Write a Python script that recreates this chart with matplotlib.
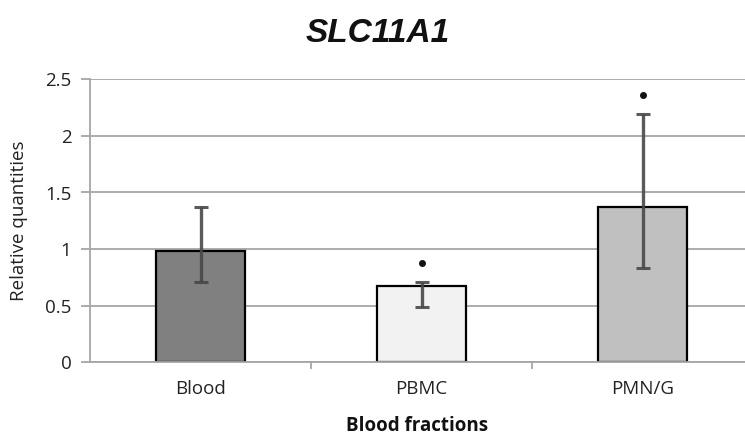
import matplotlib
matplotlib.use("Agg")
import matplotlib.pyplot as plt
import numpy as np

categories = ["Blood", "PBMC", "PMN/G"]
values = [0.98, 0.67, 1.37]
err_low = [0.71, 0.49, 0.83]
err_high = [1.37, 0.71, 2.19]
sig_y = [None, 0.88, 2.36]
colors = ["#808080", "#f2f2f2", "#c0c0c0"]
yticks = [0, 0.5, 1, 1.5, 2, 2.5]
ytick_labels = ["0", "0.5", "1", "1.5", "2", "2.5"]

W, H = 745, 436
fig = plt.figure(figsize=(W / 100, H / 100), dpi=100)
ax = fig.add_axes([90 / W, (H - 362.3) / H, (W - 90) / W, (362.3 - 79.3) / H])

x = np.arange(len(categories))
vals = np.array(values)
yerr = np.array([vals - np.array(err_low), np.array(err_high) - vals])

ax.set_axisbelow(True)
ax.yaxis.grid(True, color="#a6a6a6", linewidth=1.3)
ax.bar(x, vals, width=0.4, color=colors, edgecolor="black", linewidth=1.6, zorder=2)
ax.errorbar(x, vals, yerr=yerr, fmt="none", ecolor="#484848", elinewidth=2.4,
            capsize=5, capthick=2.2, zorder=3, alpha=0.9)
for xi, sy in zip(x, sig_y):
    if sy is not None:
        ax.plot([xi], [sy], marker="o", ms=4, color="#111111", zorder=4)

span = (W - 90) / 221.0
ax.set_xlim(-0.5, -0.5 + span)
ax.set_ylim(0, 2.5)
ax.set_yticks(yticks)
ax.set_yticklabels(ytick_labels)
ax.set_xticks(x)
ax.set_xticklabels(categories)
ax.set_xticks([0.5, 1.5], minor=True)

for s in ["top", "right"]:
    ax.spines[s].set_visible(False)
for s in ["left", "bottom"]:
    ax.spines[s].set_color("#a6a6a6")
    ax.spines[s].set_linewidth(1.3)

font = "Open Sans"
fs = 13.5
ax.tick_params(axis="y", which="major", length=6.5, width=1.3, color="#a6a6a6",
               pad=7, labelsize=fs, labelcolor="#222222")
ax.tick_params(axis="x", which="major", length=0, pad=13, labelsize=fs,
               labelcolor="#222222")
ax.tick_params(axis="x", which="minor", length=5, width=1.3, color="#a6a6a6")
for lab in ax.get_xticklabels() + ax.get_yticklabels():
    lab.set_fontfamily(font)

ax.set_ylabel("Relative quantities", fontfamily=font, fontsize=fs, color="#222222")
ax.yaxis.set_label_coords(-(90 - 28) / (W - 90), 0.5)
ax.set_xlabel("Blood fractions", fontfamily=font, fontsize=fs, fontweight="bold",
              color="#111111")
ax.xaxis.set_label_coords(0.5, -(436 - 362.3 - 0.5) / (362.3 - 79.3))
ax.xaxis.label.set_va("bottom")
fig.text((303 + 452) / 2 / W, 1 - 34 / H, "SLC11A1", ha="center", va="center",
         fontfamily="Liberation Sans", fontsize=24, fontweight="bold", style="italic",
         color="#111111")

fig.savefig("out.png", dpi=100)
